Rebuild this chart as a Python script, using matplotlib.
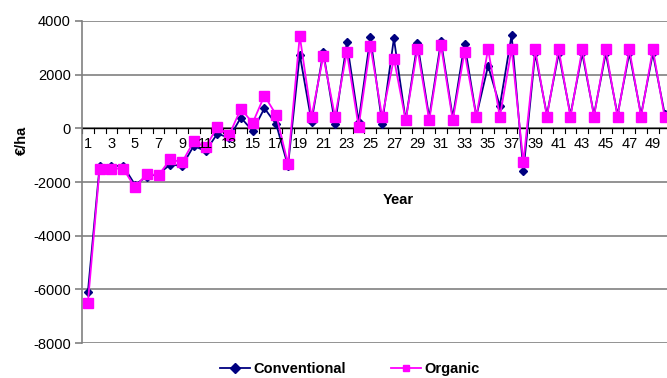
import matplotlib
matplotlib.use("Agg")
import matplotlib.pyplot as plt
import numpy as np

plt.rcParams['font.family'] = ['Liberation Sans', 'DejaVu Sans']

years = list(range(1, 51))
conventional = [-6100, -1400, -1400, -1400, -2100, -1800, -1700, -1350, -1400, -650,
                -850, -200, -350, 400, -100, 750, 150, -1400, 2750, 250,
                2850, 150, 3200, 250, 3400, 180, 3350, 300, 3180, 400,
                3250, 400, 3150, 450, 2330, 830, 3480, -1600, 2800, 500,
                2800, 500, 2800, 500, 2800, 500, 2800, 500, 2800, 550]
organic = [-6500, -1500, -1500, -1500, -2200, -1700, -1750, -1150, -1270, -480,
           -700, 50, -250, 730, 200, 1220, 500, -1320, 3450, 420,
           2700, 430, 2840, 60, 3080, 430, 2600, 300, 2960, 300,
           3090, 300, 2840, 430, 2960, 430, 2960, -1270, 2950, 430,
           2950, 430, 2950, 430, 2950, 430, 2950, 430, 2950, 430]
yticks = [-8000, -6000, -4000, -2000, 0, 2000, 4000]

fig = plt.figure(figsize=(6.67, 3.78), dpi=100)
ax = fig.add_axes([82/667, 1-343/378, 588.5/667, 322/378])

ax.set_xlim(0.5, 50.5)
ax.set_ylim(-8000, 4000)

##gridlines
for v in yticks:
    ax.axhline(v, color='#808080', lw=1.2, zorder=0)

ax.plot(years, conventional, color='#000080', marker='D', markersize=4.5, lw=1.3,
        label='Conventional', zorder=2)
ax.plot(years, organic, color='#FF00FF', marker='s', markersize=6.5, lw=1.3,
        label='Organic', zorder=3)

for s in ['top', 'right', 'bottom']:
    ax.spines[s].set_visible(False)
ax.spines['left'].set_color('#808080')
ax.spines['left'].set_linewidth(1.2)

##category axis at zero
ax.axhline(0, color='black', lw=1.0, zorder=1)
for x in np.arange(0.5, 51, 1):
    ax.plot([x, x], [0, -170], color='black', lw=0.8, zorder=1, clip_on=False)

ax.set_xticks([])
ax.set_yticks(yticks)
ax.set_yticklabels([str(v) for v in yticks], fontsize=10.5)
ax.tick_params(axis='y', length=5, color='#808080', width=1.2, pad=3)

for y in years[::2]:
    ax.text(y, -330, str(y), ha='center', va='top', fontsize=10.5)

fig.text(398/667, 1-200/378, 'Year', ha='center', va='center', fontsize=10.5, fontweight='bold')
fig.text(22/667, 1-140/378, '€/ha', ha='center', va='center', fontsize=10.5,
         fontweight='bold', rotation=90)

leg = fig.legend(loc='center', bbox_to_anchor=(350/667, 1-369/378), ncol=2, frameon=False,
                 prop={'weight': 'bold', 'size': 10.5}, handlelength=2.05, columnspacing=3.1,
                 handletextpad=0.25)
for h in leg.legend_handles:
    h.set_markersize(5)

fig.savefig('out.png', dpi=100)
